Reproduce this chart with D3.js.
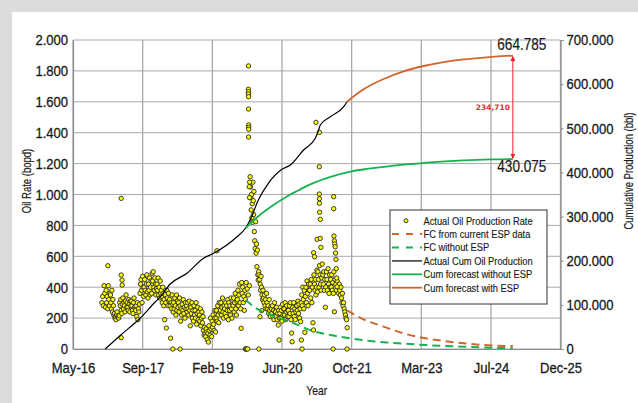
<!DOCTYPE html>
<html><head><meta charset="utf-8">
<script src="https://cdn.jsdelivr.net/npm/d3@7"></script>
<style>
body{margin:0;background:#fff;}
svg text{font-family:"Liberation Sans",Arial,sans-serif;fill:#1a1a1a;}
</style></head><body>
<svg id="c" width="638" height="403"></svg>
<script>
// ---------- axes / ticks ----------
const xTickDates = ["2016-05-10","2017-09-22","2019-02-04","2020-06-18","2021-10-31","2023-03-15","2024-07-27","2025-12-08"];
const xTickLabels = ["May-16","Sep-17","Feb-19","Jun-20","Oct-21","Mar-23","Jul-24","Dec-25"];
const rateTicks = [0,200,400,600,800,1000,1200,1400,1600,1800,2000];
const rateTickLabels = ["0","200","400","600","800","1.000","1.200","1.400","1.600","1.800","2.000"];
const cumTicks = [0,100000,200000,300000,400000,500000,600000,700000];
const cumTickLabels = ["0","100.000","200.000","300.000","400.000","500.000","600.000","700.000"];

// ---------- actual oil production rate (bopd), readings per month ----------
const rateMonths = ["2016-12","2017-01","2017-02","2017-03","2017-04","2017-05","2017-06","2017-07","2017-08","2017-09","2017-10","2017-11","2017-12",
"2018-01","2018-02","2018-03","2018-04","2018-05","2018-06","2018-07","2018-08","2018-09","2018-10","2018-11","2018-12",
"2019-01","2019-02","2019-03","2019-04","2019-05","2019-06","2019-07","2019-08","2019-09","2019-10","2019-11","2019-12",
"2020-01","2020-02","2020-03","2020-04","2020-05","2020-06","2020-07","2020-08","2020-09","2020-10","2020-11","2020-12",
"2021-01","2021-02","2021-03","2021-04","2021-05","2021-06","2021-07","2021-08","2021-09"];
const rateMonthValues = [
[300,340,280,410,360,270],
[380,300,340,260,410,320,280,360],
[350,300,260,380,240,320,280,220],
[230,200,210,190,220,240,205,215],
[200,215,300,280,320,250,230,290],
[330,260,300,280,240,310,350,270],
[300,270,250,320,290,240,310,280],
[310,280,250,230,300,330,270,260],
[250,280,210,300,190,260,240,290],
[360,420,450,380,300,470,400,340],
[400,450,380,350,420,480,370,330],
[420,380,460,350,400,440,360,490],
[440,500,400,380,460,420,350,390],
[420,380,460,350,400,330,440,360],
[380,340,300,400,360,280,320,190],
[350,300,136,380,330,280,360,310],
[320,280,70,300,260,350,290,240],
[300,260,330,280,220,350,250,310],
[270,300,240,330,280,180,260,220],
[290,250,320,230,270,200,300,260],
[280,240,300,260,220,310,250,150],
[270,230,300,200,250,180,280,220],
[250,200,300,160,230,270,190,240],
[220,180,260,150,200,240,170,210],
[120,90,140,100,80,130,110,60],
[100,45,150,120,90,200,130,80],
[180,140,220,160,120,200,250,110],
[200,250,180,280,220,170,300,240],
[250,300,220,270,330,240,200,280],
[260,230,300,210,280,250,320,190],
[300,250,280,220,330,260,200,290],
[280,330,240,300,360,260,220,310],
[320,380,280,350,420,300,260,134],
[430,360,400,300,340,250,380,320],
[430,390,350,410],
[1115,1050,980,900,1000,850,940,820,1080,960,870,1020],
[760,700,650,824,620,680,533,640,480,446],
[500,480,450,420,380,470,400,350,320],
[380,330,300,350,280,320,260,360],
[300,260,280,230,320,250,210,270],
[260,230,280,210,250,190,300,240],
[240,210,270,190,230,155,250,200],
[230,270,200,250,180,290,220,260],
[260,220,300,190,240,280,210,250],
[250,210,280,230,300,190,103,47],
[270,230,300,210,260,190,240,280],
[280,250,310,230,290,200,260,177],
[300,350,280,400,320,260,380,108],
[340,400,300,440,360,280,420,380],
[380,420,330,450,300,400,170,123],
[480,420,380,450,350,400,510,370],
[500,450,400,540,480,420,380,460],
[550,480,420,500,380,450,270,400],
[500,450,380,520,420,360,480,400],
[450,400,480,380,430,360,500,241],
[450,420,380,440,400,360],
[420,380,350,400,330,300,360,280],
[300,260,240,220,200,190,138]
];
// isolated readings (date, bopd)
const rateSpotDates = ["2017-01-15","2017-04-21","2017-04-21","2017-04-27","2017-04-28","2017-04-21","2018-04-27","2018-06-18","2019-03-09",
"2019-09-29","2019-10-04","2019-10-06","2019-10-16",
"2019-10-22","2019-10-21","2019-10-21","2019-10-21","2019-10-22","2019-10-22","2019-10-23","2019-10-23","2019-10-23","2019-10-22",
"2019-10-27","2019-10-29","2019-10-30","2020-01-04","2020-01-24","2020-01-12","2020-05-28","2020-11-09","2020-11-04",
"2021-01-31","2021-02-07","2021-02-17","2021-02-25",
"2021-03-13","2021-03-13","2021-03-13","2021-03-14","2021-03-14","2021-03-15","2021-03-20","2021-03-20","2021-03-24",
"2021-06-20","2021-06-24","2021-06-24","2021-06-26","2021-06-29","2021-07-02","2021-07-05","2021-07-08","2021-07-10","2021-07-13","2021-07-16","2021-07-18",
"2021-09-28"];
const rateSpotValues = [539,975,479,446,414,73,0,0,636,
0,0,0,0,
1832,1681,1665,1650,1633,1553,1450,1435,1422,1372,
1050,980,1080,0,248,209,58,0,58,
623,597,1467,710,
1402,1180,1003,973,943,885,839,716,658,
0,986,908,731,700,680,662,621,580,520,460,403,
0];

// ---------- rate forecasts (bopd) ----------
const fcEspDates = ["2021-09-28","2022-01-24","2022-06-17","2022-11-08","2023-04-01","2023-08-22","2024-01-13","2024-06-05","2024-12-31"];
const fcEspValues = [250,192,145,101,71,52,37,26,19];
const fcNoEspDates = ["2019-10-01","2019-12-31","2020-04-02","2020-08-02","2020-10-13","2021-01-07","2021-06-01","2021-10-22","2022-03-15","2022-08-05","2022-12-27","2023-05-20","2024-01-11","2024-07-23","2024-12-31"];
const fcNoEspValues = [317,255,220,180,155,122,91,69,52,41,32,24,15,8,5];

// ---------- cumulative production (bbl) ----------
const cumActualDates = ["2016-12-27","2017-04-14","2017-09-05","2017-12-21","2018-01-26","2018-04-08","2018-08-06","2018-12-03","2019-02-13","2019-07-31","2019-10-01","2019-11-13","2019-12-31","2020-03-12","2020-06-15","2020-08-17","2020-11-20","2021-02-12","2021-03-08","2021-03-20","2021-05-31","2021-09-04","2021-09-28"];
const cumActualValues = [0,30600,70200,106500,117800,147300,171500,205500,216800,254400,274100,299700,337500,375400,406500,416800,450800,477300,496000,507400,526200,548900,560200];
const cumNoEspDates = fcNoEspDates;
const cumNoEspValues = [274100,300700,322800,347200,359200,373000,390000,402000,409000,414500,419000,423000,427300,429400,430075];
const cumEspDates = fcEspDates;
const cumEspValues = [560200,588200,611700,629000,641100,649700,655900,660300,664785];

const endLabelWith = "664.785", endLabelWithout = "430.075", diffLabel = "234,710";
const legendLabels = ["Actual Oil Production Rate","FC from current ESP data","FC without ESP","Actual Cum Oil Production","Cum forecast without ESP","Cum forecast with ESP"];

// ---------- drawing ----------
const svg = d3.select("#c");
const parse = d3.timeParse("%Y-%m-%d");
const L=73, R=560.5, T=40, B=349;
const x = d3.scaleTime().domain([parse(xTickDates[0]), parse(xTickDates[xTickDates.length-1])]).range([L,R]);
const yR = d3.scaleLinear().domain([0,2000]).range([B,T]);
const yC = d3.scaleLinear().domain([0,700000]).range([B,T]);

const ORANGE="#d2652d", GREEN="#14b34f", GRID="#a9a9a9", INK="#1a1a1a";

// horizontally condense text around its anchor x (narrow font look)
function condense(sel,k){
  sel.each(function(){
    const t=d3.select(this), xa=+(t.attr("x")||0);
    t.attr("transform",`translate(${xa},0) scale(${k},1) translate(${-xa},0)`);
  });
  return sel;
}
function heavy(sel,w){ return sel.style("stroke",INK).style("stroke-width",w); }

// frame
svg.append("rect").attr("x",0).attr("y",0).attr("width",638).attr("height",403).attr("fill","#fff");
svg.append("rect").attr("x",0).attr("y",0).attr("width",638).attr("height",12).attr("fill","#dcdcdc");
svg.append("rect").attr("x",0).attr("y",0).attr("width",12).attr("height",403).attr("fill","#dcdcdc");

// grid
svg.append("g").selectAll("line").data(rateTicks).join("line")
  .attr("x1",L).attr("x2",R).attr("y1",d=>yR(d)).attr("y2",d=>yR(d))
  .attr("stroke",GRID).attr("stroke-width",1);
svg.append("g").selectAll("line").data(xTickDates).join("line")
  .attr("x1",d=>x(parse(d))).attr("x2",d=>x(parse(d))).attr("y1",T).attr("y2",B)
  .attr("stroke",GRID).attr("stroke-width",1.3);

// axes
const axL = svg.append("g").attr("transform",`translate(${L},0)`)
  .call(d3.axisLeft(yR).tickValues(rateTicks).tickFormat((d,i)=>rateTickLabels[i]).tickSize(0).tickPadding(5));
const axR = svg.append("g").attr("transform",`translate(${R},0)`)
  .call(d3.axisRight(yC).tickValues(cumTicks).tickFormat((d,i)=>cumTickLabels[i]).tickSize(3).tickPadding(3));
const axB = svg.append("g").attr("transform",`translate(0,${B})`)
  .call(d3.axisBottom(x).tickValues(xTickDates.map(parse)).tickFormat((d,i)=>xTickLabels[i]).tickSize(0).tickPadding(13));
[axL,axR,axB].forEach(g=>{
  g.select(".domain").attr("stroke","#8c8c8c").attr("stroke-width",1.2);
  g.selectAll(".tick line").attr("stroke","#8c8c8c");
  const t = g.selectAll("text").attr("font-size",15).attr("fill",INK)
   .style("font-family",'"Liberation Sans",Arial,sans-serif');
  heavy(t,0.3);
  condense(t,0.87);
});

// axis titles
heavy(svg.append("text").attr("transform","translate(31,181) rotate(-90) scale(0.73,1)").attr("text-anchor","middle")
  .attr("font-size",13).text("Oil Rate (bopd)"),0.2);
heavy(svg.append("text").attr("transform","translate(633,171) rotate(-90) scale(0.73,1)").attr("text-anchor","middle")
  .attr("font-size",13).text("Cumulative Production (bbl)"),0.2);
heavy(condense(svg.append("text").attr("x",(L+R)/2).attr("y",395).attr("text-anchor","middle")
  .attr("font-size",13).text("Year"),0.8),0.2);

// scatter points
const pts = [];
rateMonths.forEach((m,k)=>{
  const s = parse(m+"-01"), e = d3.timeMonth.offset(s,1), vals = rateMonthValues[k];
  vals.forEach((v,i)=>pts.push({d:new Date(+s + (e-s)*(i+0.5)/vals.length), v}));
});
rateSpotDates.forEach((d,i)=>pts.push({d:parse(d), v:rateSpotValues[i]}));
svg.append("g").selectAll("circle").data(pts).join("circle")
  .attr("cx",p=>x(p.d)).attr("cy",p=>yR(p.v)).attr("r",2.2)
  .attr("fill","#ffff00").attr("stroke","#262626").attr("stroke-width",0.9);

// lines
function series(dates, vals, ys){ return dates.map((d,i)=>[x(parse(d)), ys(vals[i])]); }
const curve = d3.line().curve(d3.curveMonotoneX);
svg.append("path").attr("d",curve(series(fcEspDates,fcEspValues,yR))).attr("fill","none")
  .attr("stroke",ORANGE).attr("stroke-width",2).attr("stroke-dasharray","8,5");
svg.append("path").attr("d",curve(series(fcNoEspDates,fcNoEspValues,yR))).attr("fill","none")
  .attr("stroke",GREEN).attr("stroke-width",2).attr("stroke-dasharray","8,5");
svg.append("path").attr("d",curve(series(cumActualDates,cumActualValues,yC))).attr("fill","none")
  .attr("stroke","#000").attr("stroke-width",1.2);
svg.append("path").attr("d",curve(series(cumNoEspDates,cumNoEspValues,yC))).attr("fill","none")
  .attr("stroke",GREEN).attr("stroke-width",1.8);
svg.append("path").attr("d",curve(series(cumEspDates,cumEspValues,yC))).attr("fill","none")
  .attr("stroke",ORANGE).attr("stroke-width",1.8);

// annotation arrow
const ax = x(parse(cumEspDates[cumEspDates.length-1]));
const yTop = yC(cumEspValues[cumEspValues.length-1]), yBot = yC(cumNoEspValues[cumNoEspValues.length-1]);
const defs = svg.append("defs");
defs.append("marker").attr("id","ah").attr("viewBox","0 0 10 10").attr("refX",9).attr("refY",5)
  .attr("markerWidth",5).attr("markerHeight",5).attr("orient","auto-start-reverse")
  .append("path").attr("d","M0,0L10,5L0,10Z").attr("fill","#ee1c25");
svg.append("line").attr("x1",ax).attr("x2",ax).attr("y1",yTop+1).attr("y2",yBot-1)
  .attr("stroke","#ee1c25").attr("stroke-width",1)
  .attr("marker-start","url(#ah)").attr("marker-end","url(#ah)");
svg.append("text").attr("x",ax-20).attr("y",(yTop+yBot)/2+2.5).attr("text-anchor","middle")
  .attr("font-size",7.5).attr("font-weight","bold").style("fill","#ee2c3c")
  .style("font-family","'DejaVu Sans',sans-serif").text(diffLabel);
heavy(condense(svg.append("text").attr("x",ax+9).attr("y",yTop-6).attr("text-anchor","middle")
  .attr("font-size",16).text(endLabelWith),0.85),0.2);
heavy(condense(svg.append("text").attr("x",ax+9).attr("y",yBot+12.5).attr("text-anchor","middle")
  .attr("font-size",16).text(endLabelWithout),0.85),0.2);

// legend
const lg = svg.append("g").attr("transform","translate(390,210)");
lg.append("rect").attr("width",157).attr("height",94).attr("fill","#fff").attr("stroke","#333").attr("stroke-width",1);
const legStyles = [
  {type:"dot"},
  {type:"line",c:ORANGE,dash:"7,7",w:2},
  {type:"line",c:GREEN,dash:"7,7",w:2},
  {type:"line",c:"#333",dash:null,w:1.5},
  {type:"line",c:GREEN,dash:null,w:1.8},
  {type:"line",c:ORANGE,dash:null,w:1.8}
];
legendLabels.forEach((lab,i)=>{
  const yy = 10.7 + i*13.4;
  const st = legStyles[i];
  if(st.type==="dot"){
    lg.append("circle").attr("cx",16).attr("cy",yy).attr("r",2).attr("fill","#ffff00").attr("stroke","#262626").attr("stroke-width",0.9);
  } else {
    lg.append("line").attr("x1",2).attr("x2",32).attr("y1",yy).attr("y2",yy)
      .attr("stroke",st.c).attr("stroke-width",st.w).attr("stroke-dasharray",st.dash);
  }
  heavy(condense(lg.append("text").attr("x",33.5).attr("y",yy+4).attr("font-size",11.5).text(lab),0.81),0.15);
});
</script></body></html>
